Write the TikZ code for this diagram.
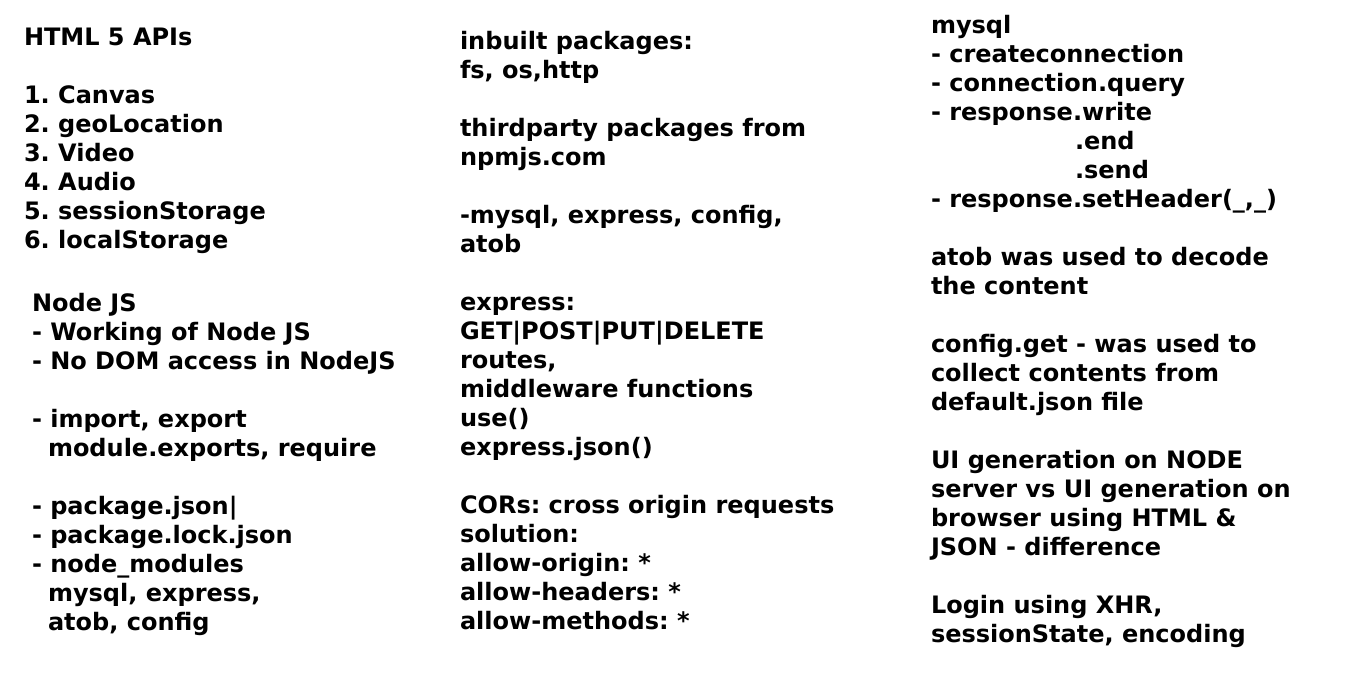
\documentclass[tikz,border=0pt]{standalone}
\usepackage{fontspec}
\setmainfont{DejaVu Sans}[BoldFont={* Bold}]
\frenchspacing
\begin{document}
\begin{tikzpicture}[x=1pt,y=1pt,
  txt/.style={anchor=base west,inner sep=0pt,outer sep=0pt,font=\fontsize{24}{29}\selectfont\bfseries}]
\useasboundingbox[fill=white] (0,0) rectangle (1366,-697);
\newcommand\tl[4]{\node[txt] (#1) at (#2,-#3) {#4};}
% column 1
\tl{a1}{24}{45.7}{HTML 5 APIs}
\tl{a2}{24}{103.3}{1. Canvas}
\tl{a3}{24}{132.3}{2. geoLocation}
\tl{a4}{24}{161.3}{3. Video}
\tl{a5}{24}{190.3}{4. Audio}
\tl{a6}{24}{219.3}{5. sessionStorage}
\tl{a7}{24}{248.3}{6. localStorage}
\tl{b1}{32}{311.7}{Node JS}
\tl{b2}{32}{340.7}{- Working of Node JS}
\tl{b3}{32}{369.7}{- No DOM access in NodeJS}
\tl{b4}{32}{427.7}{- import, export}
\tl{b5}{48}{456.7}{module.exports, require}
\tl{b6}{32}{514.7}{- package.json|}
\tl{b7}{32}{543.7}{- package.lock.json}
\tl{b8}{32}{572.7}{- node\_modules}
\tl{b9}{48}{601.7}{mysql, express,}
\tl{b10}{48}{630.7}{atob, config}
% column 2
\tl{c1}{460}{49.3}{inbuilt packages:}
\tl{c2}{460}{78.3}{fs, os,http}
\tl{c3}{460}{136.3}{thirdparty packages from}
\tl{c4}{460}{165.3}{npmjs.com}
\tl{c5}{460}{223.3}{-mysql, express, config,}
\tl{c6}{460}{252.3}{atob}
\tl{c7}{460}{310.3}{express:}
\tl{c8}{460}{339.3}{GET|POST|PUT|DELETE}
\tl{c9}{460}{368.3}{routes,}
\tl{c10}{460}{397.3}{middleware functions}
\tl{c11}{460}{426.3}{use()}
\tl{c12}{460}{455.3}{express.json()}
\tl{c13}{460}{513.3}{CORs: cross origin requests}
\tl{c14}{460}{542.3}{solution:}
\tl{c15}{460}{571.3}{allow-origin: *}
\tl{c16}{460}{600.3}{allow-headers: *}
\tl{c17}{460}{629.3}{allow-methods: *}
% column 3
\tl{d1}{931}{33.3}{mysql}
\tl{d2}{931}{62.3}{- createconnection}
\tl{d3}{931}{91.3}{- connection.query}
\tl{d4}{931}{120.3}{- response.write}
\tl{d5}{1075}{149.3}{.end}
\tl{d6}{1075}{178.3}{.send}
\tl{d7}{931}{207.3}{- response.setHeader(\_,\_)}
\tl{d8}{931}{265.3}{atob was used to decode}
\tl{d9}{931}{294.3}{the content}
\tl{d10}{931}{352.3}{config.get - was used to}
\tl{d11}{931}{381.3}{collect contents from}
\tl{d12}{931}{410.3}{default.json file}
\tl{d13}{931}{468.3}{UI generation on NODE}
\tl{d14}{931}{497.3}{server vs UI generation on}
\tl{d15}{931}{526.3}{browser using HTML \&}
\tl{d16}{931}{555.3}{JSON - difference}
\tl{d17}{931}{613.3}{Login using XHR,}
\tl{d18}{931}{642.3}{sessionState, encoding}
\end{tikzpicture}
\end{document}
